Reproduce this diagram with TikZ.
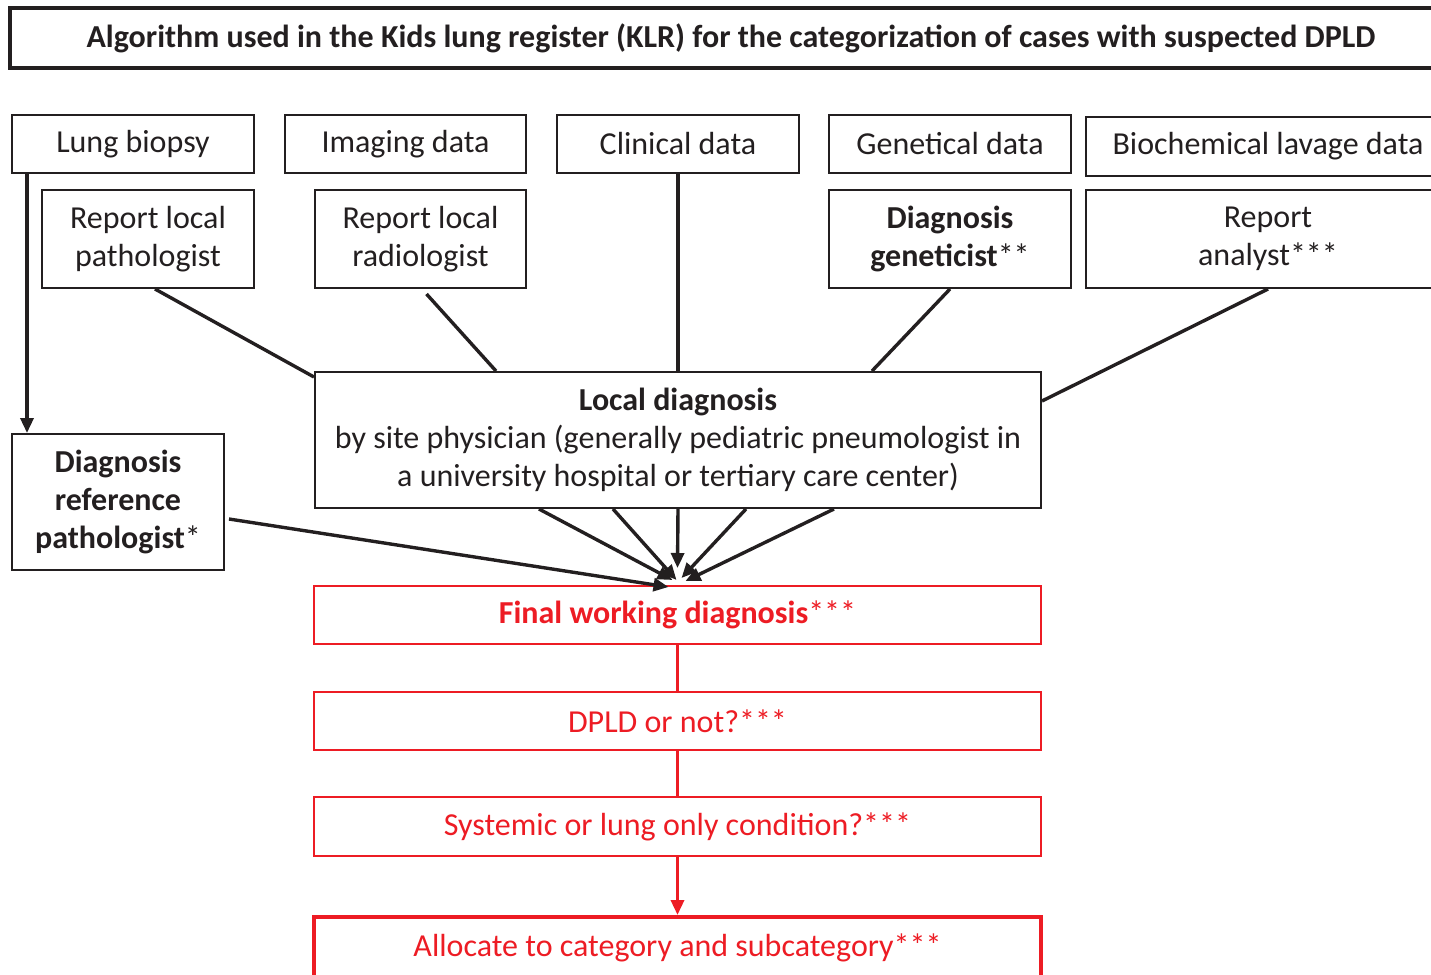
\documentclass[tikz,border=0pt]{standalone}
\usepackage{fontspec}
\setmainfont{Carlito}
\usepackage{tikz}
\usetikzlibrary{calc, arrows.meta}
\usepackage{xcolor}
\definecolor{klrred}{RGB}{237,28,36}
\definecolor{klrink}{RGB}{35,31,32}

\begin{document}
\begin{tikzpicture}[x=0.5pt, y=-0.5pt,
    font=\fontsize{16pt}{19pt}\selectfont, text=klrink,
    box/.style={draw=klrink, line width=1pt, align=center, inner sep=0pt,
        minimum width=121pt, minimum height=29pt},
    redbox/.style={box, draw=klrred, text=klrred, minimum width=363.5pt},
    link/.style={draw=klrink, line width=1.7pt},
    arrowlink/.style={link, -{Triangle[length=7.5pt, width=6.5pt]}},
    redlink/.style={draw=klrred, line width=1.7pt}]

    % ==========================================
    % FRAME (pixel grid of the figure)
    % ==========================================
    \useasboundingbox (0,0) rectangle (1431,975);

    % ==========================================
    % TITLE
    % ==========================================
    \node[box, line width=2pt, minimum width=721pt, minimum height=30pt, font=\fontsize{16pt}{19pt}\selectfont\bfseries]
        (title) at (731,38) {Algorithm used in the Kids lung register (KLR) for the categorization of cases with suspected DPLD};

    % ==========================================
    % DATA SOURCES (top row)
    % ==========================================
    \node[box] (biopsy)   at (133,144)   {Lung biopsy};
    \node[box, minimum width=120.5pt] (imaging) at (405.5,144) {Imaging data};
    \node[box] (clinical) at (678,144)   {Clinical data};
    \node[box] (genetical) at (950,144)  {Genetical data};
    \node[box, minimum width=182pt, minimum height=29.5pt] (lavage) at (1268,146.5) {Biochemical lavage data};

    % ==========================================
    % REPORTS (second row)
    % ==========================================
    \node[box, minimum width=106pt, minimum height=49pt] (reppath) at (148,239) {Report local\\pathologist};
    \node[box, minimum width=105.5pt, minimum height=49pt] (reprad) at (420.5,239) {Report local\\radiologist};
    \node[box, minimum height=49pt] (genet) at (950,239) {\textbf{Diagnosis}\\\textbf{geneticist}**};
    \node[box, minimum width=182pt, minimum height=49pt] (analyst) at (1268,239) {Report\\analyst***};

    % ==========================================
    % DIAGNOSES
    % ==========================================
    \node[box, minimum width=363pt, minimum height=68pt] (local) at (678,440)
        {\textbf{Local diagnosis}\\by site physician (generally pediatric pneumologist in\\a university hospital or tertiary care center)};
    \node[box, minimum width=106pt, minimum height=68pt] (refpath) at (118,502)
        {\textbf{Diagnosis}\\\textbf{reference}\\\textbf{pathologist}*};

    % red chain
    \node[redbox] (final)    at (677.5,615)   {\textbf{Final working diagnosis}***};
    \node[redbox] (dpld)     at (677.5,721)   {DPLD or not?***};
    \node[redbox, minimum height=29.5pt] (systemic) at (677.5,826.5) {Systemic or lung only condition?***};
    \node[redbox, line width=2pt, minimum height=31pt] (allocate) at (677.5,948) {Allocate to category and subcategory***};

    % ==========================================
    % CONNECTORS INTO LOCAL DIAGNOSIS
    % ==========================================
    \draw[arrowlink] ($(biopsy.south west)+(16,0)$) -- ($(refpath.north west)+(16,0)$);
    \draw[link] ($(reppath.south)+(7,0)$) -- ($(local.north west)+(0,6)$);
    \draw[link] ($(reprad.south)+(6,5)$) -- ($(local.north west)+(182,0)$);
    \draw[link] (clinical.south) -- (local.north);
    \draw[link] (genet.south) -- ($(local.north east)+(-170,0)$);
    \draw[link] (analyst.south) -- ($(local.north east)+(0,30)$);

    % ==========================================
    % CONVERGING ARROWS ONTO FINAL DIAGNOSIS
    % ==========================================
    \coordinate (hitL) at ($(final.north)+(-9,2)$);
    \coordinate (hit1) at ($(final.north)+(-5,-5)$);
    \coordinate (hit2) at ($(final.north)+(-1,-5)$);
    \coordinate (hit3) at ($(final.north)+(0,-17)$);
    \coordinate (hit4) at ($(final.north)+(4,-7)$);
    \coordinate (hit5) at ($(final.north)+(8,-4)$);

    \draw[arrowlink] ($(refpath.east)+(4,17)$) -- (hitL);
    \draw[arrowlink] ($(local.south west)+(225,0)$) -- (hit1);
    \draw[arrowlink] ($(local.south west)+(299,0)$) -- (hit2);
    \draw[arrowlink] (local.south) -- (hit3);
    \draw[arrowlink] ($(local.south east)+(-296,0)$) -- (hit4);
    \draw[arrowlink] ($(local.south east)+(-208,0)$) -- (hit5);

    % ==========================================
    % RED CHAIN
    % ==========================================
    \draw[redlink] (final.south) -- (dpld.north);
    \draw[redlink] (dpld.south) -- (systemic.north);
    \draw[redlink, -{Triangle[length=7.5pt, width=6.5pt]}] (systemic.south) -- (allocate.north);

\end{tikzpicture}
\end{document}
